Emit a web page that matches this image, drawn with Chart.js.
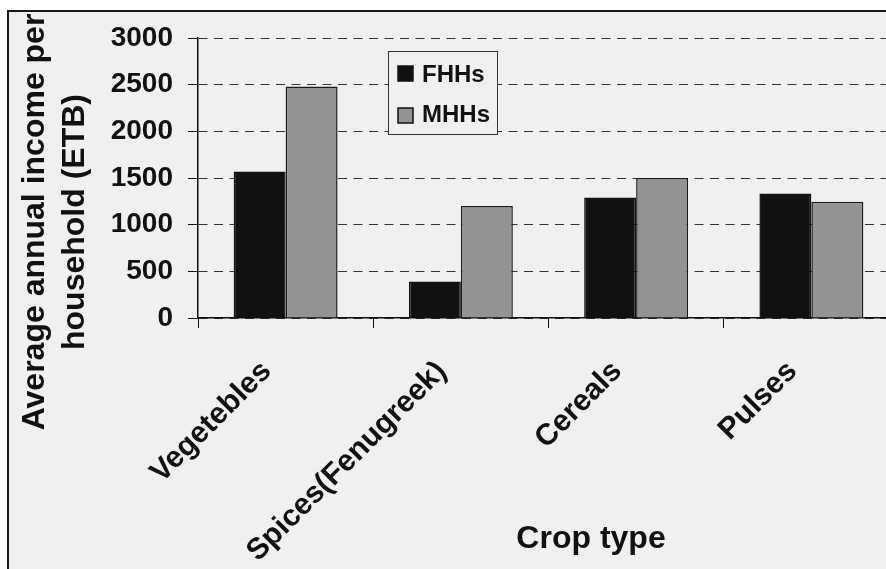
<!DOCTYPE html>
<html><head><meta charset="utf-8">
<script src="https://cdn.jsdelivr.net/npm/chart.js@4.4.0/dist/chart.umd.min.js"></script>
<style>
html,body{margin:0;padding:0;width:886px;height:569px;overflow:hidden;background:#fff;}
#frame{position:absolute;left:7px;top:10px;width:920px;height:600px;border-left:2px solid #1a1a1a;border-top:2px solid #1a1a1a;background:#f0f0f0;}
#c{position:absolute;left:0;top:0;}
</style></head><body>
<div id="frame"></div>
<canvas id="c" width="911" height="569"></canvas>
<script>
const categories = ['Vegetebles', 'Spices(Fenugreek)', 'Cereals', 'Pulses'];
const fhhs = [1570, 390, 1290, 1335];
const mhhs = [2480, 1200, 1500, 1245];
const yTicks = [0, 500, 1000, 1500, 2000, 2500, 3000];
const seriesNames = ['FHHs', 'MHHs'];
const seriesColors = ['#111111', '#939393'];
const yTitleLines = ['Average annual income per', 'household (ETB)'];
const xTitle = 'Crop type';

const FONT = '"Liberation Sans", Arial, sans-serif';

const decor = {
  id: 'decor',
  afterDraw(chart) {
    const ctx = chart.ctx;
    ctx.save();
    ctx.fillStyle = '#111';
    ctx.font = 'bold 32px ' + FONT;
    ctx.textAlign = 'center';
    ctx.textBaseline = 'alphabetic';
    const ycx = [44, 84];
    yTitleLines.forEach((t, i) => {
      ctx.save();
      ctx.translate(ycx[i], 222);
      ctx.rotate(-Math.PI / 2);
      ctx.fillText(t, 0, 0);
      ctx.restore();
    });
    ctx.fillText(xTitle, 591, 548);
    // legend
    ctx.fillStyle = '#f0f0f0';
    ctx.fillRect(388.5, 51.5, 109, 83);
    ctx.strokeStyle = '#333';
    ctx.lineWidth = 1;
    ctx.strokeRect(388.5, 51.5, 109, 83);
    ctx.font = 'bold 24px ' + FONT;
    ctx.textAlign = 'left';
    const rows = [[66, 82], [108, 122]];
    seriesNames.forEach((n, i) => {
      ctx.fillStyle = seriesColors[i];
      ctx.fillRect(398, rows[i][0], 15, 15);
      ctx.strokeStyle = '#111';
      ctx.lineWidth = 1.5;
      ctx.strokeRect(398, rows[i][0], 15, 15);
      ctx.fillStyle = '#111';
      ctx.fillText(n, 422, rows[i][1]);
    });
    ctx.restore();
  }
};

new Chart(document.getElementById('c'), {
  type: 'bar',
  data: {
    labels: categories,
    datasets: [
      { label: seriesNames[0], data: fhhs, backgroundColor: seriesColors[0], borderColor: '#111111', borderWidth: 1.5 },
      { label: seriesNames[1], data: mhhs, backgroundColor: seriesColors[1], borderColor: '#1a1a1a', borderWidth: 1.5 }
    ]
  },
  options: {
    responsive: false,
    animation: false,
    devicePixelRatio: 1,
    layout: { padding: { left: 0, top: 38, right: 12, bottom: 0 } },
    datasets: { bar: { categoryPercentage: 0.593, barPercentage: 1 } },
    plugins: { legend: { display: false }, tooltip: { enabled: false }, title: { display: false } },
    scales: {
      x: {
        grid: { display: true, drawOnChartArea: false, drawTicks: true, tickLength: 10, color: '#111', tickColor: '#111', lineWidth: 1, offset: true },
        border: { display: true, color: '#111', width: 1.5 },
        ticks: {
          font: { family: FONT, size: 30, weight: 'bold' }, color: '#111',
          maxRotation: 45, minRotation: 45, padding: 26, labelOffset: -19, autoSkip: false
        },
        afterFit(s) { s.height = 251; }
      },
      y: {
        min: 0, max: 3000,
        afterBuildTicks(s) { s.ticks = yTicks.map(v => ({ value: v })); },
        grid: { color: '#333', lineWidth: 1, tickLength: 10, tickColor: '#111', tickBorderDash: [], drawTicks: true },
        border: { display: true, color: '#111', width: 1.5, dash: [9, 6.5] },
        ticks: { font: { family: FONT, size: 28, weight: 'bold' }, color: '#111', padding: 15, callback: v => String(v) },
        afterFit(s) { s.width = 198; }
      }
    }
  },
  plugins: [decor]
});
</script>
</body></html>
